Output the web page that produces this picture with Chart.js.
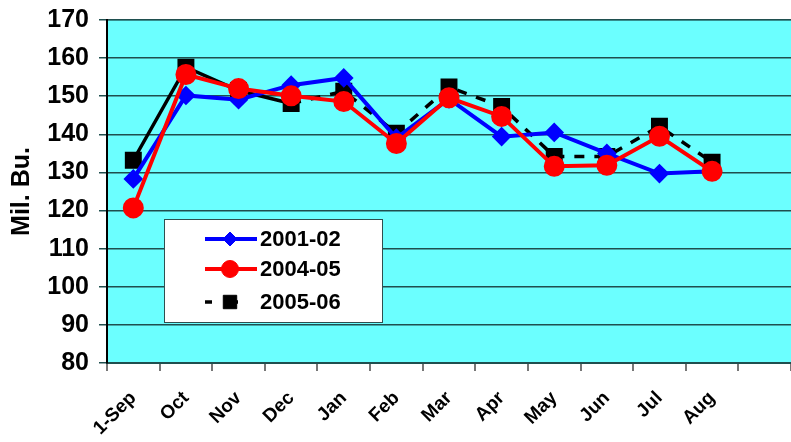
<!DOCTYPE html>
<html>
<head>
<meta charset="utf-8">
<script src="https://cdn.jsdelivr.net/npm/chart.js@4.4.1/dist/chart.umd.min.js"></script>
<style>
  html, body { margin: 0; padding: 0; background: #fff; }
  #wrap { width: 791px; height: 442px; }
</style>
</head>
<body>
<div id="wrap"><canvas id="chart" width="791" height="442"></canvas></div>
<script>
// DATA
const months = ["1-Sep", "Oct", "Nov", "Dec", "Jan", "Feb", "Mar", "Apr", "May", "Jun", "Jul", "Aug", ""];
const s2001 = [128.3, 150.2, 149.1, 152.9, 154.8, 139.0, 149.3, 139.4, 140.5, 135.0, 129.7, 130.3, null];
const s2004 = [120.7, 155.7, 152.0, 150.1, 148.6, 137.6, 149.6, 144.7, 131.6, 131.9, 139.5, 130.3, null];
const s2005 = [133.2, 157.6, 151.5, 148.1, 151.3, 140.3, 152.4, 147.3, 134.2, 134.2, 142.1, 132.7, null];
const seriesNames = ["2001-02", "2004-05", "2005-06"];
const yTicks = [80, 90, 100, 110, 120, 130, 140, 150, 160, 170];

const FONT = "'Liberation Sans', Arial, sans-serif";

// fundo ciano da área do gráfico
const plotBg = {
  id: "plotBg",
  beforeDraw(chart) {
    const { ctx, chartArea: a } = chart;
    ctx.save();
    ctx.fillStyle = "#6bffff";
    ctx.fillRect(a.left, a.top, a.right - a.left, a.bottom - a.top);
    ctx.strokeStyle = "#4fcfcf";
    ctx.lineWidth = 2;
    ctx.beginPath();
    ctx.moveTo(a.left, a.top);
    ctx.lineTo(a.right, a.top);
    ctx.stroke();
    ctx.restore();
  },
};

// legenda dentro do gráfico
const boxLegend = {
  id: "boxLegend",
  afterDraw(chart) {
    const { ctx } = chart;
    const x = 164.5, y = 219.5, w = 218, h = 103;
    ctx.save();
    ctx.fillStyle = "#fff";
    ctx.fillRect(x, y, w, h);
    ctx.strokeStyle = "#2f4f4f";
    ctx.lineWidth = 1;
    ctx.strokeRect(x, y, w, h);
    const rows = [239, 269, 302];
    chart.data.datasets.forEach((ds, i) => {
      const cy = rows[i];
      ctx.strokeStyle = ds.borderColor;
      ctx.lineWidth = ds.borderWidth;
      ctx.setLineDash(i === 2 ? [7, 19] : []);
      ctx.beginPath();
      ctx.moveTo(205, cy);
      ctx.lineTo(257, cy);
      ctx.stroke();
      ctx.setLineDash([]);
      ctx.fillStyle = ds.pointBackgroundColor;
      ctx.strokeStyle = ds.pointBorderColor;
      ctx.lineWidth = 1;
      Chart.helpers.drawPoint(ctx, { pointStyle: ds.pointStyle, radius: ds.pointRadius, borderWidth: 1 }, 230, cy);
      ctx.fillStyle = "#000";
      ctx.font = "bold 22px " + FONT;
      ctx.textBaseline = "middle";
      ctx.fillText(ds.label, 260, cy + 1);
    });
    ctx.restore();
  },
};

const ctx = document.getElementById("chart").getContext("2d");
new Chart(ctx, {
  type: "line",
  data: {
    labels: months,
    datasets: [
      {
        label: seriesNames[0], data: s2001,
        borderColor: "#0000ff", backgroundColor: "#0000ff",
        pointBackgroundColor: "#0000ff", pointBorderColor: "#0000ff",
        borderWidth: 4, pointStyle: "rectRot", pointRadius: 7, order: 2,
      },
      {
        label: seriesNames[1], data: s2004,
        borderColor: "#ff0000", backgroundColor: "#ff0000",
        pointBackgroundColor: "#ff0000", pointBorderColor: "#ff0000",
        borderWidth: 4, pointStyle: "circle", pointRadius: 8.5, order: 1,
      },
      {
        label: seriesNames[2], data: s2005,
        borderColor: "#000000", backgroundColor: "#000000",
        pointBackgroundColor: "#000000", pointBorderColor: "#000000",
        borderWidth: 3.5, pointStyle: "rect", pointRadius: 9.5, order: 3,
        segment: { borderDash: (c) => (c.p0DataIndex < 3 ? [] : [10, 10]) },
      },
    ],
  },
  options: {
    responsive: false,
    animation: false,
    layout: { autoPadding: false, padding: { top: 20, right: 0, left: 0, bottom: 0 } },
    plugins: { legend: { display: false }, tooltip: { enabled: false } },
    elements: { line: { tension: 0 }, point: { borderWidth: 1 } },
    scales: {
      x: {
        offset: true,
        grid: { offset: true, drawOnChartArea: false, drawTicks: true, tickLength: 8, color: "#777", lineWidth: 2 },
        border: { display: true, color: "#1f4f4f", width: 2 },
        ticks: {
          color: "#000", font: { family: FONT, size: 19, weight: "bold" },
          maxRotation: 45, minRotation: 45, autoSkip: false, padding: 16,
        },
        afterFit(scale) {
          scale.height = 79;
          scale.paddingRight = 0;
          scale.paddingLeft = 0;
        },
      },
      y: {
        min: 80, max: 170,
        afterBuildTicks(scale) { scale.ticks = yTicks.map((v) => ({ value: v })); },
        grid: { color: "#1f4f4f", lineWidth: 1.5, tickLength: 8, drawTicks: true },
        border: { display: true, color: "#000", width: 2 },
        ticks: { color: "#000", font: { family: FONT, size: 25, weight: "bold" }, padding: 10 },
        title: {
          display: true, text: "Mil. Bu.", color: "#000",
          font: { family: FONT, size: 25, weight: "bold" }, padding: { top: 7, bottom: 0 },
        },
        afterFit(scale) {
          scale.width = 107;
          scale.paddingTop = 0;
          scale.paddingBottom = 0;
        },
      },
    },
  },
  plugins: [plotBg, boxLegend],
});
</script>
</body>
</html>
